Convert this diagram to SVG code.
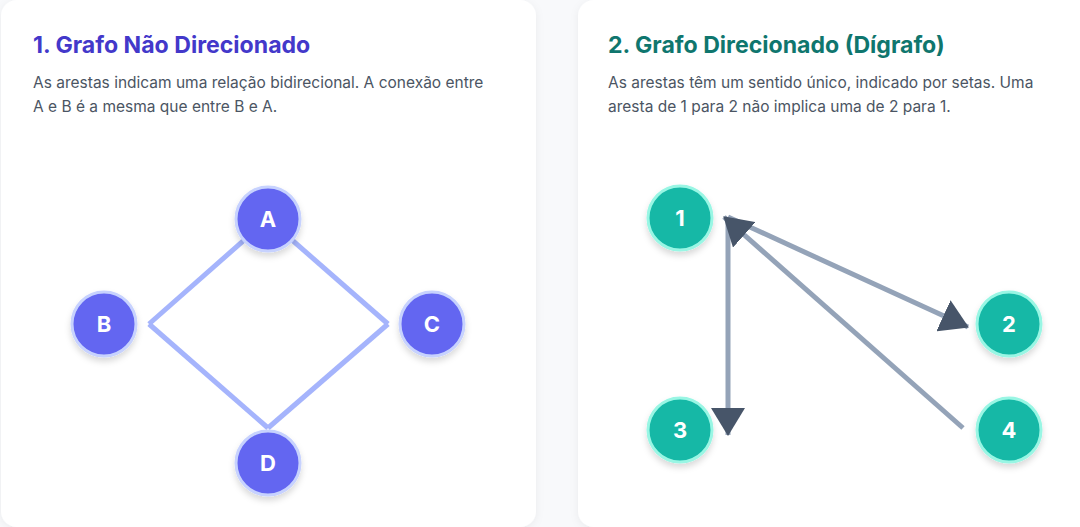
<svg xmlns="http://www.w3.org/2000/svg" width="1080" height="527" viewBox="0 0 1080 527">
<defs>
<style>
.card{fill:#ffffff;filter:url(#cardShadow)}
.title{font-family:Inter,"Liberation Sans",sans-serif;font-weight:700;font-size:23.1px}
.t1{fill:#4338ca}
.t2{fill:#0f766e}
.body{font-family:Inter,"Liberation Sans",sans-serif;font-size:15.5px;fill:#4b5563}
.nodeU circle{fill:#6366f1;stroke:#c7d2fe;stroke-width:3;filter:url(#nodeShadow)}
.nodeD circle{fill:#14b8a6;stroke:#99f6e4;stroke-width:3;filter:url(#nodeShadow)}
.lbl{font-family:Inter,"Liberation Sans",sans-serif;font-weight:700;font-size:22px;fill:#ffffff;text-anchor:middle}
.eu{stroke:#a5b4fc;stroke-width:5;fill:none}
.ed{stroke:#94a3b8;stroke-width:5;fill:none;marker-end:url(#arrow)}
</style>
<filter id="cardShadow" x="-10%" y="-10%" width="120%" height="120%">
<feDropShadow dx="0" dy="2" stdDeviation="4" flood-color="#000" flood-opacity="0.06"/>
</filter>
<filter id="nodeShadow" x="-40%" y="-40%" width="180%" height="190%">
<feDropShadow dx="0" dy="4" stdDeviation="3" flood-color="#000" flood-opacity="0.15"/>
</filter>
<marker id="arrow" markerUnits="userSpaceOnUse" viewBox="0 0 28 34" markerWidth="28" markerHeight="34" refX="27" refY="17" orient="auto">
<path d="M0,0 L28,17 L0,34 z" fill="#475569"/>
</marker>
</defs>
<rect x="0" y="0" width="1080" height="527" fill="#f8f9fb"/>
<rect class="card" x="1" y="0" width="535" height="527" rx="16"/>
<rect class="card" x="578" y="0" width="520" height="527" rx="16"/>

<text class="title t1" x="33" y="53">1. Grafo Não Direcionado</text>
<text class="body" x="33" y="88">As arestas indicam uma relação bidirecional. A conexão entre</text>
<text class="body" x="33" y="112">A e B é a mesma que entre B e A.</text>

<text class="title t2" x="608" y="53">2. Grafo Direcionado (Dígrafo)</text>
<text class="body" x="608" y="88">As arestas têm um sentido único, indicado por setas. Uma</text>
<text class="body" x="608" y="112">aresta de 1 para 2 não implica uma de 2 para 1.</text>

<g id="connectors">
<line class="eu" x1="268" y1="219" x2="149" y2="324"/>
<line class="eu" x1="268" y1="219" x2="388" y2="324"/>
<line class="eu" x1="149" y1="324" x2="268" y2="428"/>
<line class="eu" x1="388" y1="324" x2="268" y2="428"/>
<line class="ed" x1="728" y1="217" x2="728" y2="435"/>
<line class="ed" x1="728" y1="217" x2="968" y2="327"/>
<line class="ed" x1="963" y1="428" x2="724" y2="217"/>
</g>

<g id="node-A" class="nodeU"><circle cx="268" cy="219" r="32"/><text class="lbl" x="268" y="227">A</text></g>
<g id="node-B" class="nodeU"><circle cx="104" cy="324" r="32"/><text class="lbl" x="104" y="332">B</text></g>
<g id="node-C" class="nodeU"><circle cx="432" cy="324" r="32"/><text class="lbl" x="432" y="332">C</text></g>
<g id="node-D" class="nodeU"><circle cx="268" cy="463" r="32"/><text class="lbl" x="268" y="471">D</text></g>

<g id="node-1" class="nodeD"><circle cx="680" cy="218" r="32"/><text class="lbl" x="680" y="226">1</text></g>
<g id="node-2" class="nodeD"><circle cx="1009" cy="324" r="32"/><text class="lbl" x="1009" y="332">2</text></g>
<g id="node-3" class="nodeD"><circle cx="680" cy="430" r="32"/><text class="lbl" x="680" y="438">3</text></g>
<g id="node-4" class="nodeD"><circle cx="1009" cy="430" r="32"/><text class="lbl" x="1009" y="438">4</text></g>
</svg>
